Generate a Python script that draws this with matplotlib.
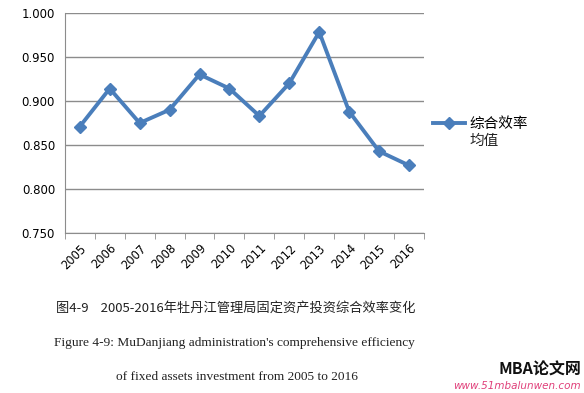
import matplotlib
matplotlib.use("Agg")
import matplotlib.pyplot as plt

years = ["2005", "2006", "2007", "2008", "2009", "2010", "2011", "2012", "2013", "2014", "2015", "2016"]
values = [0.871, 0.914, 0.875, 0.890, 0.930, 0.914, 0.883, 0.920, 0.978, 0.888, 0.843, 0.827]
yticks = [0.750, 0.800, 0.850, 0.900, 0.950, 1.000]
series_name_l1 = "综合效率"
series_name_l2 = "均值"
caption_cn = "图4-9    2005-2016年牡丹江管理局固定资产投资综合效率变化"
caption_en1 = "Figure 4-9: MuDanjiang administration's comprehensive efficiency"
caption_en2 = "of fixed assets investment from 2005 to 2016"

plt.rcParams['font.family'] = ['DejaVu Sans', 'Noto Sans CJK SC']

fig = plt.figure(figsize=(5.84, 3.93), dpi=100)
ax = fig.add_axes([0.111, 0.406, 0.615, 0.562])

x = list(range(len(years)))
line, = ax.plot(x, values, color="#4A7EBB", linewidth=2.8, marker="D", markersize=6,
                markerfacecolor="#4A7EBB", markeredgecolor="#4A7EBB")

ax.set_xlim(-0.5, len(years) - 0.5)
ax.set_ylim(0.75, 1.0)
ax.set_yticks(yticks)
ax.set_yticklabels([f"{v:.3f}" for v in yticks], fontsize=8.5)
ax.yaxis.grid(True, color="#8C8C8C", linewidth=1.0)
ax.set_axisbelow(True)
ax.tick_params(axis='y', length=0, pad=7)

ax.set_xticks([i - 0.5 for i in range(len(years) + 1)], minor=True)
ax.set_xticks(x)
ax.set_xticklabels(years, rotation=45, fontsize=8.3, ha='right', rotation_mode='anchor')
ax.tick_params(axis='x', which='major', length=0, pad=6)
ax.tick_params(axis='x', which='minor', length=4, color="#8C8C8C")

for s in ["top", "right"]:
    ax.spines[s].set_visible(False)
ax.spines["left"].set_color("#8C8C8C")
ax.spines["bottom"].set_color("#8C8C8C")

cjk = ['Noto Sans CJK SC', 'DejaVu Sans']
leg = fig.legend(handles=[line], labels=[series_name_l1], loc="center left",
                 bbox_to_anchor=(0.741, 0.684), frameon=False,
                 handlelength=2.2, handletextpad=0.35, borderpad=0, borderaxespad=0,
                 prop={'family': cjk, 'size': 10.5})
fig.text(0.804, 0.641, series_name_l2, ha='left', va='center', fontsize=10.5,
         family=cjk, color="#222222")

fig.text(0.403, 0.215, caption_cn, ha='center', va='center', fontsize=9.5,
         family=cjk, color="#222222")
fig.text(0.401, 0.127, caption_en1, ha='center', va='center', fontsize=9.6,
         family=['Liberation Serif'], color="#222222")
fig.text(0.406, 0.040, caption_en2, ha='center', va='center', fontsize=9.6,
         family=['Liberation Serif'], color="#222222")

fig.text(0.995, 0.060, "MBA论文网", ha='right', va='center', fontsize=11.5, fontweight='bold',
         style='italic', family=cjk, color="#111111")
fig.text(0.995, 0.018, "www.51mbalunwen.com", ha='right', va='center', fontsize=7.5,
         style='italic', family=['DejaVu Sans'], color="#E0407A")

fig.savefig("out.png", dpi=100)
